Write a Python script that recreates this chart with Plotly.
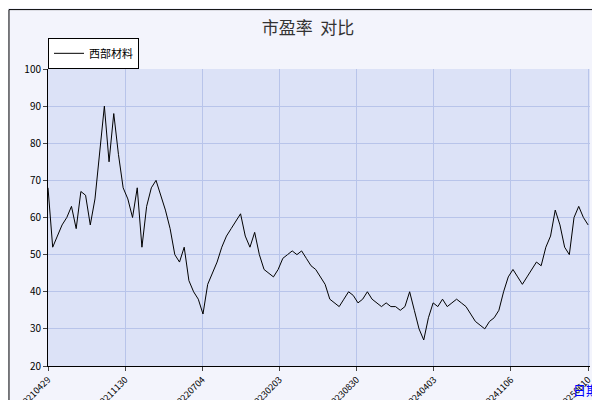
import plotly.graph_objects as go

# PE ratio, sampled roughly every 5 px of the reference
pe = [68, 52, 55, 58, 60, 63, 57, 67, 66, 58, 65, 78, 90, 75, 88, 77, 68, 65, 60, 68, 52,
      63, 68, 70, 66, 62, 57, 50, 48, 52, 43, 40, 38, 34, 42, 45, 48, 52, 55, 57, 59, 61,
      55, 52, 56, 50, 46, 45, 44, 46, 49, 50, 51, 50, 51, 49, 47, 46, 44, 42, 38, 37, 36,
      38, 40, 39, 37, 38, 40, 38, 37, 36, 37, 36, 36, 35, 36, 40, 35, 30, 27, 33, 37, 36,
      38, 36, 37, 38, 37, 36, 34, 32, 31, 30, 32, 33, 35, 40, 44, 46, 44, 42, 44, 46, 48,
      47, 52, 55, 62, 58, 52, 50, 60, 63, 60, 58]
idx = list(range(len(pe)))
tick_labels = ["20210429", "20211130", "20220704", "20230203", "20230830",
               "20240403", "20241106", "20250610"]
step = (len(pe) - 1) / 7.0
tick_pos = [i * step for i in range(len(tick_labels))]

fig = go.Figure()
fig.add_trace(go.Scatter(x=idx, y=pe, mode="lines", name="西部材料",
                         line=dict(color="black", width=1)))

fig.update_layout(
    width=600, height=400,
    margin=dict(l=40, r=18, t=61, b=42, autoexpand=False),
    paper_bgcolor="#f3f4fc", plot_bgcolor="#dce2f7",
    font=dict(family="Noto Sans CJK SC", size=11, color="black"),
    title=dict(text="市盈率  对比", x=0.5, y=0.965, font=dict(size=17, color="#333")),
    showlegend=True,
    legend=dict(x=0.0, y=1.105, xanchor="left", yanchor="top", bgcolor="white",
                bordercolor="black", borderwidth=1, font=dict(size=11)),
    xaxis=dict(range=[0, len(pe) - 1 + 0.4], tickvals=tick_pos, ticktext=tick_labels,
               tickangle=-45, gridcolor="#b8c4ea", showline=True, linecolor="black",
               ticks="outside", ticklen=4, tickfont=dict(size=9), zeroline=False,
               automargin=False),
    yaxis=dict(range=[20, 100], dtick=10, gridcolor="#b8c4ea", showline=True,
               linecolor="black", ticks="outside", ticklen=4, zeroline=False,
               automargin=False, tickfont=dict(size=10)),
    shapes=[dict(type="rect", xref="paper", yref="paper", x0=-0.072, x1=1.03,
                 y0=-0.136, y1=1.2, line=dict(color="black", width=1))],
    annotations=[dict(text="日期", xref="paper", yref="paper", x=0.965, y=-0.04,
                      xanchor="left", yanchor="top", showarrow=False,
                      font=dict(color="blue", size=13))],
)

fig.write_html("out.html")
